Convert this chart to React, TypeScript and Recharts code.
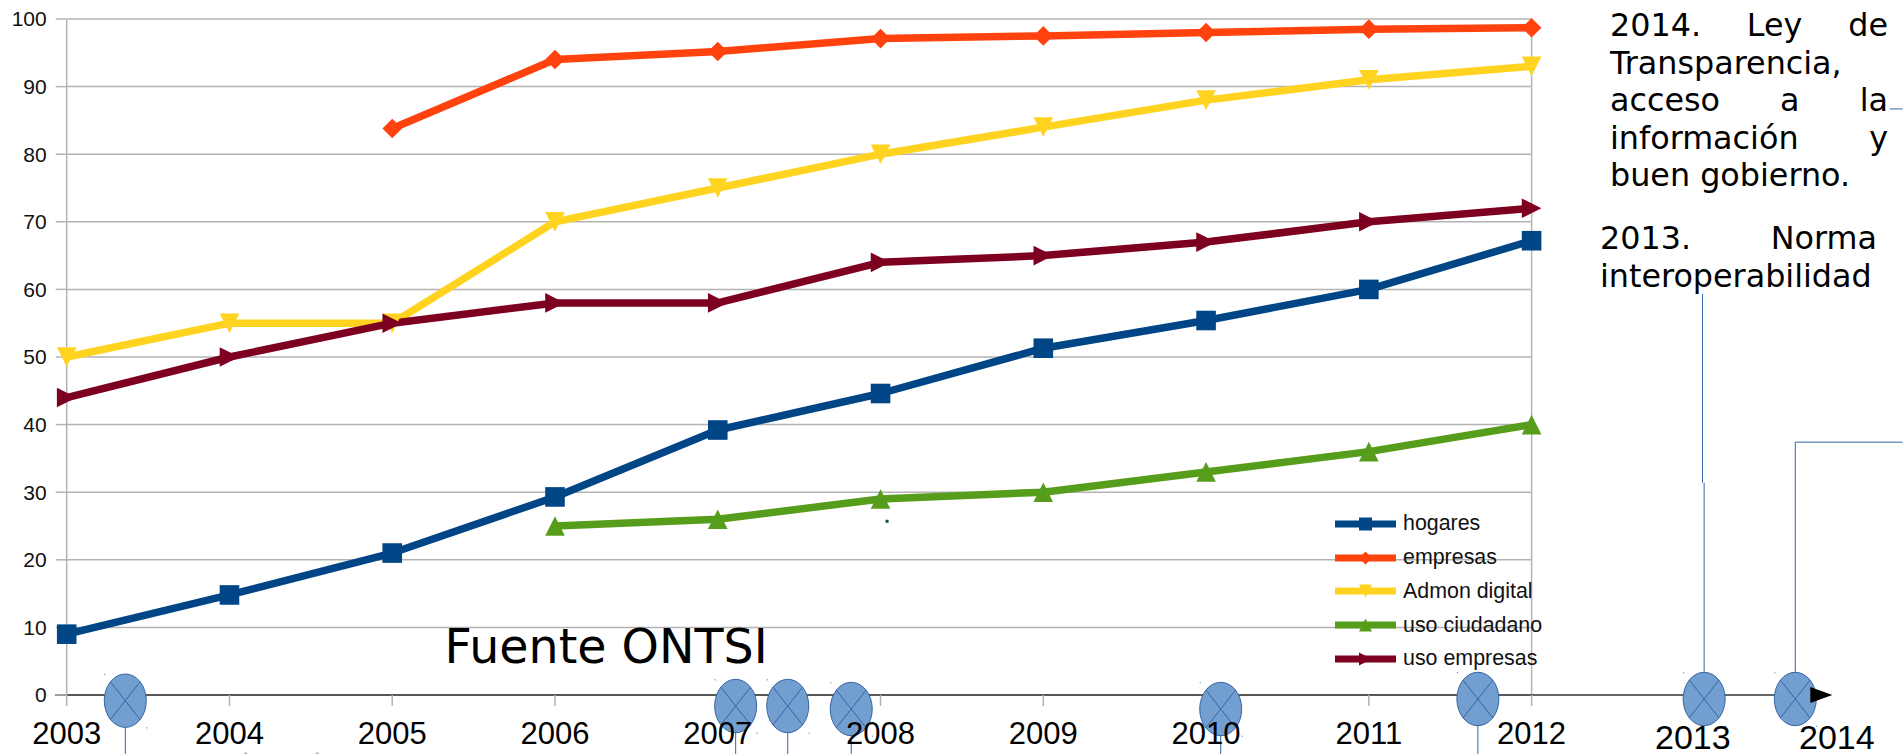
import { LineChart, Line, XAxis, YAxis, CartesianGrid, Legend, ReferenceLine, ReferenceDot } from 'recharts';

const years = [2003, 2004, 2005, 2006, 2007, 2008, 2009, 2010, 2011, 2012];
const yTicks = [0, 10, 20, 30, 40, 50, 60, 70, 80, 90, 100];

const hogares = [9, 14.8, 21, 29.3, 39.2, 44.6, 51.3, 55.4, 60, 67.2];
const empresas = [null, null, 83.8, 94, 95.2, 97.1, 97.5, 98, 98.5, 98.7];
const admonDigital = [50, 55, 55, 70, 75, 80, 84, 88, 91, 93];
const usoCiudadano = [null, null, null, 25, 26, 29, 30, 33, 36, 40];
const usoEmpresas = [44, 50, 55, 58, 58, 64, 65, 67, 70, 72];

// hitos de la linea de tiempo, en unidades del propio eje
const milestoneX = [2003.36, 2007.11, 2007.43, 2007.82, 2010.09, 2011.67, 2013.06, 2013.62];
const milestoneY = [-0.84, -1.63, -1.63, -2.07, -2.07, -0.59, -0.59, -0.59];
// restos sueltos de otras formas que asoman abajo
const speckX = [2004.1, 2004.54];

const data = years.map((year, i) => ({
  year,
  hogares: hogares[i],
  empresas: empresas[i],
  admon: admonDigital[i],
  ciudadano: usoCiudadano[i],
  usoEmpresas: usoEmpresas[i],
}));

const sans = '"Liberation Sans", Arial, sans-serif';
const dejavu = '"DejaVu Sans", sans-serif';
const gridColor = '#b3b3b3';

type MarkerKind = 'square' | 'diamond' | 'down' | 'up' | 'right';

function markerPoints(kind: MarkerKind, cx: number, cy: number, s: number) {
  const pts: Record<MarkerKind, number[][]> = {
    square: [[-s, -s], [s, -s], [s, s], [-s, s]],
    diamond: [[0, -s], [s, 0], [0, s], [-s, 0]],
    down: [[-s, -s], [s, -s], [0, s]],
    up: [[0, -s], [s, s], [-s, s]],
    right: [[-s, -s], [s, 0], [-s, s]],
  };
  return pts[kind].map(([x, y]) => `${cx + x},${cy + y}`).join(' ');
}

const makeDot = (kind: MarkerKind, color: string) => (props: any) => {
  if (props.cy == null || props.value == null) return <g key={props.key} />;
  return <polygon key={props.key} points={markerPoints(kind, props.cx, props.cy, 9.8)} fill={color} />;
};

const series: { key: string; name: string; color: string; marker: MarkerKind }[] = [
  { key: 'hogares', name: 'hogares', color: '#004586', marker: 'square' },
  { key: 'empresas', name: 'empresas', color: '#ff420e', marker: 'diamond' },
  { key: 'admon', name: 'Admon digital', color: '#ffd320', marker: 'down' },
  { key: 'ciudadano', name: 'uso ciudadano', color: '#579d1c', marker: 'up' },
  { key: 'usoEmpresas', name: 'uso empresas', color: '#7e0021', marker: 'right' },
];

function LegendBox() {
  return (
    <div style={{ fontFamily: sans, fontSize: 21.4, color: '#111', whiteSpace: 'nowrap' }}>
      {series.map((s) => (
        <div key={s.key} style={{ height: 33.75, display: 'flex', alignItems: 'center' }}>
          <svg width={61} height={20} style={{ marginRight: 7 }}>
            <rect x={0} y={6.5} width={61} height={7} fill={s.color} />
            <polygon points={markerPoints(s.marker, 30.5, 10, 6.5)} fill={s.color} />
          </svg>
          {s.name}
        </div>
      ))}
    </div>
  );
}

// elipse con aspa, como la forma "sumador" del diagrama original
function MilestoneShape({ cx, cy }: any) {
  const rx = 21;
  const ry = 26.7;
  const d = Math.SQRT1_2;
  return (
    <g>
      <ellipse cx={cx} cy={cy} rx={rx} ry={ry} fill="#729fcf" stroke="#3465a4" strokeWidth={1} />
      <line x1={cx - rx * d} y1={cy - ry * d} x2={cx + rx * d} y2={cy + ry * d} stroke="#3465a4" strokeWidth={1} />
      <line x1={cx + rx * d} y1={cy - ry * d} x2={cx - rx * d} y2={cy + ry * d} stroke="#3465a4" strokeWidth={1} />
      <rect x={cx - rx} y={cy - ry} width={1} height={1} fill="#3465a4" />
      <rect x={cx + rx} y={cy + ry} width={1} height={1} fill="#3465a4" />
    </g>
  );
}

const ArrowHead = ({ cx, cy }: any) => (
  <polygon points={`${cx - 11},${cy - 8} ${cx + 11},${cy} ${cx - 11},${cy + 8}`} fill="#000" />
);

const TealSpot = ({ cx, cy }: any) => <rect x={cx - 1.5} y={cy - 1.5} width={3} height={3} fill="#004f4f" />;
const Speck = ({ cx, cy }: any) => <rect x={cx - 1.5} y={cy - 0.5} width={3} height={1} fill="#7f93ad" />;

const leader = { stroke: '#3465a4', strokeWidth: 1, ifOverflow: 'visible' as const };

const noteStyle = {
  position: 'absolute' as const,
  fontFamily: dejavu,
  fontSize: 31.8,
  lineHeight: '37.5px',
  color: '#000',
  textAlign: 'justify' as const,
};

const bigYear = {
  position: 'absolute' as const,
  fontFamily: sans,
  fontSize: 34,
  lineHeight: '34px',
  color: '#000',
};

export default function App() {
  return (
    <div style={{ position: 'absolute', left: 0, top: 0, width: 1903, height: 754, overflow: 'hidden', background: '#fff' }}>
      <LineChart
        width={1903}
        height={754}
        data={data}
        margin={{ top: 19, right: 371.4, bottom: 0, left: 0 }}
      >
        <CartesianGrid horizontal vertical={false} stroke={gridColor} strokeWidth={1.5} />
        <XAxis
          dataKey="year"
          type="number"
          domain={[2003, 2012]}
          ticks={years}
          interval={0}
          height={59}
          tickSize={11}
          tickMargin={16}
          allowDecimals={false}
          axisLine={false}
          tickLine={{ stroke: gridColor, strokeWidth: 1.5 }}
          tick={{ fontFamily: sans, fontSize: 31, fill: '#000' }}
        />
        <YAxis
          domain={[0, 100]}
          ticks={yTicks}
          interval={0}
          width={66.7}
          tickSize={11}
          tickMargin={9}
          axisLine={{ stroke: gridColor, strokeWidth: 1.5 }}
          tickLine={{ stroke: gridColor, strokeWidth: 1.5 }}
          tick={{ fontFamily: sans, fontSize: 21, fill: '#111' }}
        />
        <ReferenceLine x={2012} stroke={gridColor} strokeWidth={1.5} />

        {series.map((s) => (
          <Line
            key={s.key}
            dataKey={s.key}
            name={s.name}
            stroke={s.color}
            strokeWidth={7.5}
            strokeLinejoin="round"
            dot={makeDot(s.marker, s.color)}
            activeDot={false}
            isAnimationActive={false}
          />
        ))}

        <Legend
          layout="horizontal"
          verticalAlign="middle"
          align="center"
          content={<LegendBox />}
          wrapperStyle={{ left: 1335, top: 507, width: 220, height: 170 }}
        />

        {/* eje de tiempo */}
        <ReferenceLine
          segment={[{ x: 2002.93, y: 0 }, { x: 2013.68, y: 0 }]}
          stroke="#333"
          strokeWidth={1.5}
          ifOverflow="visible"
        />

        {/* conectores de cada hito */}
        {milestoneX.slice(0, 6).map((x, i) => (
          <ReferenceLine key={x} segment={[{ x, y: milestoneY[i] }, { x, y: -9 }]} {...leader} />
        ))}
        <ReferenceLine segment={[{ x: 2013.06, y: 0 }, { x: 2013.06, y: 31.4 }]} {...leader} />
        <ReferenceLine segment={[{ x: 2013.05, y: 31.4 }, { x: 2013.05, y: 59.3 }]} {...leader} />
        <ReferenceLine segment={[{ x: 2013.62, y: 0 }, { x: 2013.62, y: 37.4 }]} {...leader} />
        <ReferenceLine segment={[{ x: 2013.62, y: 37.4 }, { x: 2014.28, y: 37.4 }]} {...leader} />
        <ReferenceLine segment={[{ x: 2014.2, y: 86.7 }, { x: 2014.28, y: 86.7 }]} {...leader} />

        {milestoneX.map((x, i) => (
          <ReferenceDot key={x} x={x} y={milestoneY[i]} ifOverflow="visible" shape={MilestoneShape} />
        ))}
        <ReferenceDot x={2013.78} y={0} ifOverflow="visible" shape={ArrowHead} />
        <ReferenceDot x={2008.04} y={25.7} ifOverflow="visible" shape={TealSpot} />
        {speckX.map((x) => (
          <ReferenceDot key={x} x={x} y={-8.6} ifOverflow="visible" shape={Speck} />
        ))}
      </LineChart>

      <div style={{ position: 'absolute', left: 444.5, top: 615, fontFamily: dejavu, fontSize: 47.5, lineHeight: '64px', color: '#000', whiteSpace: 'nowrap' }}>
        Fuente ONTSI
      </div>
      <div style={{ ...noteStyle, left: 1610, top: 6, width: 278 }}>
        2014. Ley de Transparencia, acceso a la información y buen gobierno.
      </div>
      <div style={{ ...noteStyle, left: 1600, top: 219, width: 277 }}>
        2013. Norma interoperabilidad
      </div>
      <div style={{ ...bigYear, left: 1655, top: 720 }}>2013</div>
      <div style={{ ...bigYear, left: 1799, top: 720 }}>2014</div>
    </div>
  );
}
